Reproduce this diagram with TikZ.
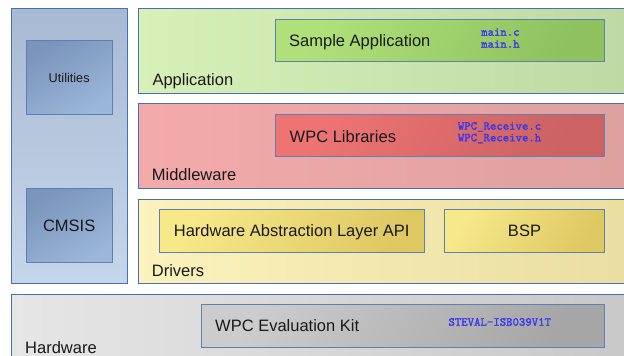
\documentclass[tikz,border=0pt]{standalone}
\usepackage{fontspec}
\setmainfont{Liberation Sans}
\newfontfamily\codefont{lmmono10-regular.otf}[FakeBold=1.6]
\definecolor{bandline}{RGB}{70,112,176}
\definecolor{boxline}{RGB}{92,128,176}
\definecolor{codeblue}{RGB}{56,56,236}
\tikzset{
  blk/.style={draw=bandline, line width=0.9pt, inner sep=0pt, outer sep=0pt, anchor=north west, shade, shading=axis},
  ibox/.style={blk, draw=boxline},
  big/.style={inner sep=0pt, font=\fontsize{16.5}{19}\selectfont, text=black!90},
  small/.style={inner sep=0pt, font=\fontsize{12.7}{15}\selectfont, text=black!90},
  code/.style={inner sep=0pt, anchor=base west, font=\codefont\fontsize{12.2}{12}\selectfont, text=codeblue},
}
\begin{document}
\begin{tikzpicture}[x=1pt,y=-1pt]
\useasboundingbox (0,0) rectangle (624,356);
% left column
\node[blk, top color={rgb,255:red,168;green,185;blue,211}, bottom color={rgb,255:red,198;green,214;blue,234}, minimum width=116.5pt, minimum height=275.4pt] (util-col) at (11,8.3) {};
\node[ibox, top color={rgb,255:red,122;green,148;blue,187}, bottom color={rgb,255:red,154;green,182;blue,216}, shading angle=30, minimum width=85.7pt, minimum height=74pt] (utilbox) at (26.3,40.3) {};
\node[ibox, top color={rgb,255:red,122;green,148;blue,187}, bottom color={rgb,255:red,154;green,182;blue,216}, shading angle=30, minimum width=85.7pt, minimum height=74pt] (cmsisbox) at (26.3,188.3) {};
\node[small, anchor=base] (utiltxt) at (69.2,82.3) {Utilities};
\node[big, anchor=base] (cmsistxt) at (69.2,231.7) {CMSIS};
% bands
\node[blk, left color={rgb,255:red,214;green,240;blue,184}, right color={rgb,255:red,190;green,218;blue,162}, minimum width=487pt, minimum height=85pt] (appband) at (138,8.3) {};
\node[blk, left color={rgb,255:red,244;green,170;blue,170}, right color={rgb,255:red,222;green,160;blue,160}, minimum width=487pt, minimum height=85pt] (midband) at (138,103.3) {};
\node[blk, left color={rgb,255:red,251;green,242;blue,188}, right color={rgb,255:red,234;green,222;blue,160}, minimum width=487pt, minimum height=84.7pt] (drvband) at (138,199) {};
\node[blk, left color={rgb,255:red,230;green,230;blue,230}, right color={rgb,255:red,200;green,200;blue,200}, minimum width=614pt, minimum height=62.7pt] (hwband) at (11,294.3) {};
% inner boxes
\node[ibox, top color={rgb,255:red,176;green,224;blue,122}, bottom color={rgb,255:red,142;green,194;blue,94}, shading angle=60, minimum width=329pt, minimum height=42.7pt] (appbox) at (275.3,19) {};
\node[ibox, top color={rgb,255:red,238;green,116;blue,116}, bottom color={rgb,255:red,204;green,98;blue,98}, shading angle=60, minimum width=329pt, minimum height=42.4pt] (libbox) at (275.3,114.3) {};
\node[ibox, top color={rgb,255:red,247;green,232;blue,138}, bottom color={rgb,255:red,222;green,200;blue,98}, shading angle=60, minimum width=264.7pt, minimum height=42.7pt] (halbox) at (159.3,209.3) {};
\node[ibox, top color={rgb,255:red,247;green,232;blue,138}, bottom color={rgb,255:red,222;green,200;blue,98}, shading angle=60, minimum width=159.6pt, minimum height=42.7pt] (bspbox) at (444.7,209.3) {};
\node[ibox, top color={rgb,255:red,204;green,204;blue,204}, bottom color={rgb,255:red,166;green,166;blue,166}, shading angle=60, minimum width=403pt, minimum height=42.6pt] (evalbox) at (201.3,304.7) {};
% labels
\node[big, anchor=base west] (applbl) at (152.3,85) {Application};
\node[big, anchor=base west] (midlbl) at (151.7,180.5) {Middleware};
\node[big, anchor=base west] (drvlbl) at (151.7,276) {Drivers};
\node[big, anchor=base west] (hwlbl) at (25,353.5) {Hardware};
% box texts
\node[big, anchor=base west] (apptxt) at (289,46.7) {Sample Application};
\node[big, anchor=base west] (libtxt) at (289.5,142.3) {WPC Libraries};
\node[big, anchor=base] (haltxt) at (291.7,236.7) {Hardware Abstraction Layer API};
\node[big, anchor=base] (bsptxt) at (524.5,236.7) {BSP};
\node[big, anchor=base west] (evaltxt) at (215,331.7) {WPC Evaluation Kit};
% code
\node[code] (mainc) at (481,35.7) {main.c};
\node[code] (mainh) at (481,47.7) {main.h};
\node[code] (recc) at (457.7,129.7) {WPC\_Receive.c};
\node[code] (rech) at (457.7,141.3) {WPC\_Receive.h};
\node[code] (steval) at (448.3,325.7) {STEVAL-ISB039V1T};
\end{tikzpicture}
\end{document}
